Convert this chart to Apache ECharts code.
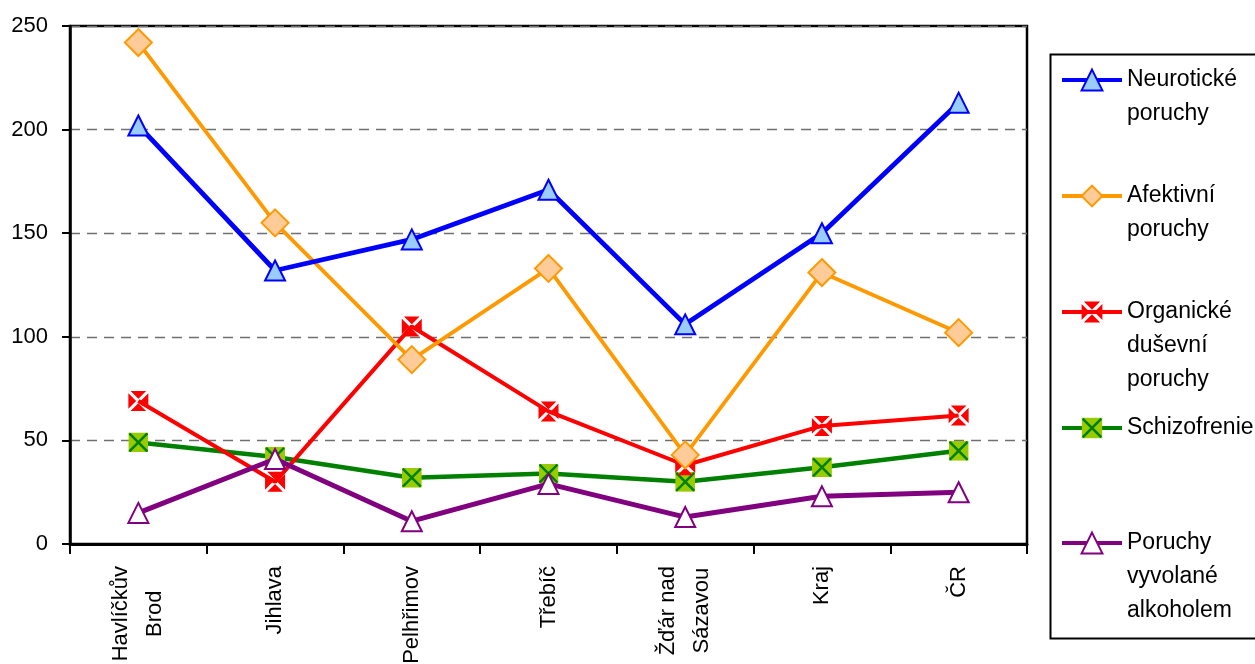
<!DOCTYPE html>
<html><head><meta charset="utf-8">
<script src="https://cdn.jsdelivr.net/npm/echarts@6/dist/echarts.min.js"></script>
<style>html,body{margin:0;padding:0;background:#fff}#c{width:1255px;height:664px}</style>
</head><body><div id="c"></div><script>
const categories = ['Havlíčkův\nBrod', 'Jihlava', 'Pelhřimov', 'Třebíč', 'Žďár nad\nSázavou', 'Kraj', 'ČR'];
const neuroticke = [202, 132, 147, 171, 106, 150, 213];
const afektivni = [242, 155, 89, 133, 43, 131, 102];
const organicke = [69, 30, 105, 64, 38, 57, 62];
const schizofrenie = [49, 42, 32, 34, 30, 37, 45];
const alkohol = [15, 41, 11, 29, 13, 23, 25];
const seriesNames = ['Neurotické poruchy', 'Afektivní poruchy', 'Organické duševní poruchy', 'Schizofrenie', 'Poruchy vyvolané alkoholem'];
const legendLabels = ['\nNeurotické\nporuchy', '\nAfektivní\nporuchy', '\n\nOrganické\nduševní\nporuchy', 'Schizofrenie', '\n\nPoruchy\nvyvolané\nalkoholem'];
const yMin = 0, yMax = 250, yStep = 50;

const FONT = '"Liberation Sans", Arial, sans-serif';
const LH = 34;
const colors = ['#0000FF', '#FF9900', '#FF0000', '#008000', '#800080'];
const lineWidths = [4.8, 3.8, 4, 4.5, 5];
const redX = 'path://M2.2,0L17.8,0L10,7.8Z M20,2.2L20,17.8L12.2,10Z M17.8,20L2.2,20L10,12.2Z M0,17.8L0,2.2L7.8,10Z';
const greenSvg = "<svg xmlns='http://www.w3.org/2000/svg' width='40' height='40'><rect width='40' height='40' fill='#99CC00'/><path d='M2,2L38,38M38,2L2,38' stroke='#008000' stroke-width='5'/></svg>";
const greenX = 'image://data:image/svg+xml;charset=utf-8,' + encodeURIComponent(greenSvg);

const chart = echarts.init(document.getElementById('c'), null, {renderer: 'canvas'});

function lineCount(s) { return s.split('\n').length; }
const legendCenters = [80, 196, 312, 428, 543];
const legends = seriesNames.map((n, i) => ({
  data: [n],
  left: 1060,
  top: legendCenters[i] - lineCount(legendLabels[i]) * LH / 2,
  padding: 0,
  itemWidth: 60,
  itemHeight: 26,
  itemGap: 0,
  lineStyle: {width: 4, color: colors[i]},
  formatter: () => legendLabels[i],
  textStyle: {fontSize: 23, lineHeight: LH, color: '#000', fontFamily: FONT}
}));

chart.setOption({
  animation: false,
  backgroundColor: '#fff',
  textStyle: {fontFamily: FONT},
  grid: {left: 70, right: 228, top: 26, bottom: 120, show: true, borderColor: '#000', borderWidth: 2.5, containLabel: false, outerBoundsMode: 'none'},
  legend: legends,
  graphic: [{type: 'rect', left: 1048, top: 52, shape: {width: 220, height: 584}, style: {fill: 'none', stroke: '#000', lineWidth: 2}}],
  xAxis: {
    type: 'category', data: categories, boundaryGap: true,
    axisLine: {lineStyle: {color: '#000', width: 3}},
    axisTick: {show: true, length: 10, lineStyle: {color: '#000', width: 2}, alignWithLabel: false},
    axisLabel: {
      interval: 0, rotate: 90, margin: 22, color: '#000', fontSize: 22, fontFamily: FONT, lineHeight: 34,
      formatter: v => v.indexOf('\n') >= 0 ? v.split('\n').map(l => '{c|' + l + '}').join('\n') : v,
      rich: {c: {align: 'center', fontSize: 22, lineHeight: 34, fontFamily: FONT, color: '#000'}}
    },
    splitLine: {show: false}
  },
  yAxis: {
    type: 'value', min: yMin, max: yMax, interval: yStep,
    axisLine: {show: true, lineStyle: {color: '#000', width: 2.5}},
    axisTick: {show: true, length: 8, lineStyle: {color: '#000', width: 2}},
    axisLabel: {margin: 22, color: '#000', fontSize: 22, fontFamily: FONT},
    splitLine: {show: true, lineStyle: {color: '#707070', width: 1.3, type: [10, 7]}}
  },
  series: [
    {name: seriesNames[0], type: 'line', data: neuroticke, symbol: 'triangle', symbolSize: 20,
      lineStyle: {color: colors[0], width: lineWidths[0]}, itemStyle: {color: '#99CCFF', borderColor: colors[0], borderWidth: 2}, z: 5},
    {name: seriesNames[1], type: 'line', data: afektivni, symbol: 'diamond', symbolSize: 27,
      lineStyle: {color: colors[1], width: lineWidths[1]}, itemStyle: {color: '#FFCC99', borderColor: colors[1], borderWidth: 2}, z: 4},
    {name: seriesNames[2], type: 'line', data: organicke, symbol: redX, symbolSize: 20,
      lineStyle: {color: colors[2], width: lineWidths[2]}, itemStyle: {color: colors[2], borderWidth: 0}, z: 3},
    {name: seriesNames[3], type: 'line', data: schizofrenie, symbol: greenX, symbolSize: 20,
      lineStyle: {color: colors[3], width: lineWidths[3]}, itemStyle: {color: colors[3]}, z: 2},
    {name: seriesNames[4], type: 'line', data: alkohol, symbol: 'triangle', symbolSize: 20,
      lineStyle: {color: colors[4], width: lineWidths[4]}, itemStyle: {color: '#FFFFFF', borderColor: colors[4], borderWidth: 2}, z: 6}
  ]
});
</script></body></html>
